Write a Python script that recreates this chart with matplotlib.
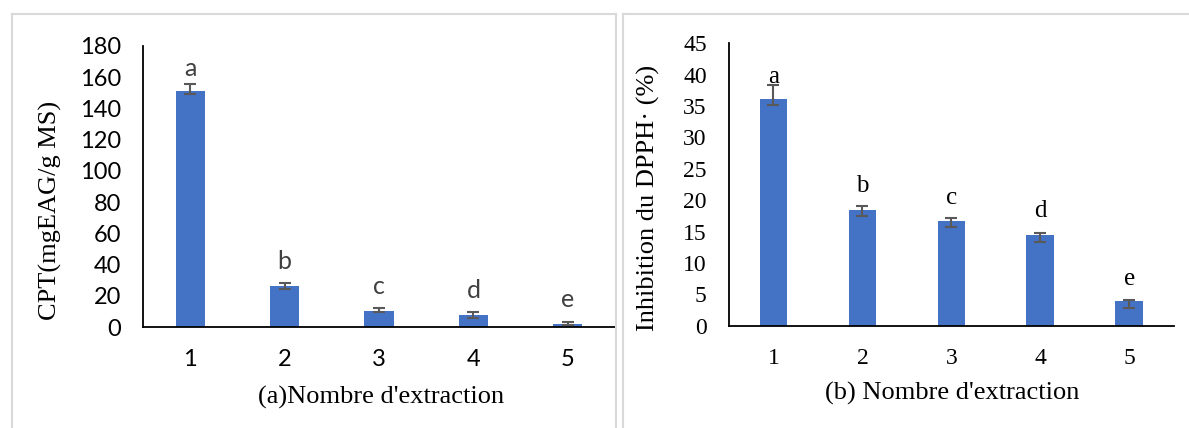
import matplotlib
matplotlib.use("Agg")
import matplotlib.pyplot as plt
from matplotlib.lines import Line2D

# données
extractions = [1, 2, 3, 4, 5]
tick_labels = ["1", "2", "3", "4", "5"]
letters = ["a", "b", "c", "d", "e"]

cpt_values = [151, 26, 10.5, 7.5, 2]
cpt_err_lo = [1.5, 1.5, 1.0, 1.5, 0.8]
cpt_err_hi = [4.5, 2.0, 1.5, 2.3, 1.0]
cpt_letter_y = [165.5, 42, 26, 23.5, 17.5]

dpph_values = [36.1, 18.4, 16.7, 14.4, 3.9]
dpph_err_lo = [0.9, 0.9, 1.0, 1.1, 1.0]
dpph_err_hi = [2.3, 0.7, 0.4, 0.4, 0.2]
dpph_letter_y = [39.6, 22.3, 20.4, 18.2, 7.5]

BAR = "#4472C4"
ERR = "#595959"
SANS = ["Lato", "DejaVu Sans"]
SERIF = ["Liberation Serif", "DejaVu Serif"]

fig = plt.figure(figsize=(11.89, 4.28), dpi=100)

# cadres gris des deux graphiques
for x0, x1, right in [(12, 616, True), (623, 1189, False)]:
    fx0, fx1 = x0 / 1189, x1 / 1189
    fy = 1 - 14 / 428
    kw = dict(color="#d9d9d9", linewidth=1.5, transform=fig.transFigure)
    fig.add_artist(Line2D([fx0, fx1], [fy, fy], **kw))
    fig.add_artist(Line2D([fx0, fx0], [0, fy], **kw))
    if right:
        fig.add_artist(Line2D([fx1, fx1], [0, fy], **kw))


def draw(ax, values, lo, hi, letter_y, ymax, step, font, letter_color):
    ax.bar(extractions, values, width=0.31, color=BAR, zorder=2)
    ax.errorbar(extractions, values, yerr=[lo, hi], fmt="none", ecolor=ERR,
                elinewidth=1.5, capsize=4, capthick=1.5, zorder=3)
    for x, y, t in zip(extractions, letter_y, letters):
        ax.text(x, y, t, ha="center", va="center", fontsize=18,
                family=font, color=letter_color)
    ax.set_xlim(0.5, 5.5)
    ax.set_ylim(0, ymax)
    ax.set_yticks(range(0, ymax + 1, step))
    ax.set_xticks(extractions)
    ax.set_xticklabels(tick_labels)
    for s in ["top", "right"]:
        ax.spines[s].set_visible(False)
    for s in ["left", "bottom"]:
        ax.spines[s].set_linewidth(1.3)
    ax.tick_params(axis="both", length=0, labelsize=17)
    ax.tick_params(axis="x", pad=16)
    ax.tick_params(axis="y", pad=16)
    for lab in ax.get_xticklabels() + ax.get_yticklabels():
        lab.set_family(font)


ax1 = fig.add_axes([143 / 1189, 1 - 327 / 428, 472 / 1189, 281 / 428])
draw(ax1, cpt_values, cpt_err_lo, cpt_err_hi, cpt_letter_y, 180, 20,
     SANS, "#404040")
ax1.set_ylabel("CPT(mgEAG/g MS)", fontsize=19, family=SERIF)
ax1.set_xlabel("(a)Nombre d'extraction", fontsize=19, family=SERIF)
ax1.yaxis.set_label_coords(-0.172, 0.416)
ax1.xaxis.set_label_coords(0.504, -0.21)

ax2 = fig.add_axes([729 / 1189, 1 - 325.7 / 428, 444.6 / 1189, 282.4 / 428])
draw(ax2, dpph_values, dpph_err_lo, dpph_err_hi, dpph_letter_y, 45, 5,
     SERIF, "black")
ax2.set_ylabel("Inhibition du DPPH\u00b7 (%)", fontsize=19, family=SERIF)
ax2.set_xlabel("(b) Nombre d'extraction", fontsize=19, family=SERIF)
ax2.yaxis.set_label_coords(-0.155, 0.454)
ax2.xaxis.set_label_coords(0.501, -0.2)

fig.savefig("out.png", dpi=100)
